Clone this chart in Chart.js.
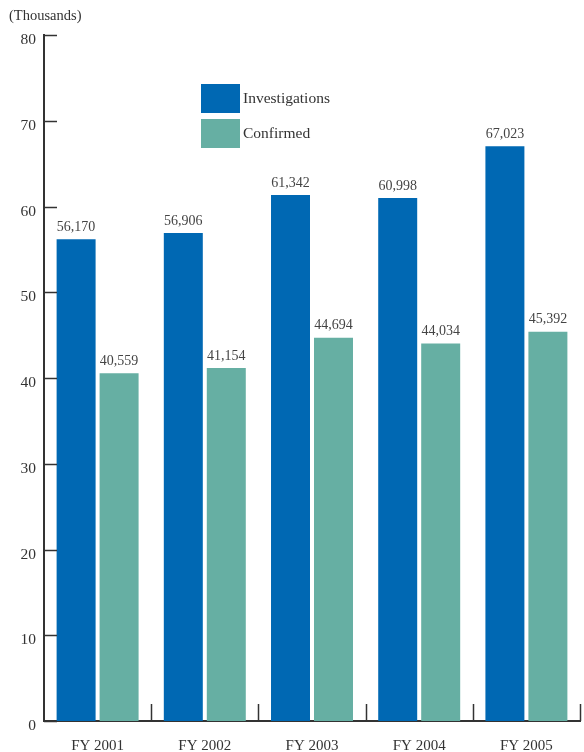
<!DOCTYPE html>
<html>
<head>
<meta charset="utf-8">
<script src="https://cdn.jsdelivr.net/npm/chart.js@4/dist/chart.umd.min.js"></script>
<style>
  html, body { margin: 0; padding: 0; background: #fff; }
  #wrap { width: 584px; height: 752px; position: relative; }
</style>
</head>
<body>
<div id="wrap"><canvas id="chart"></canvas></div>
<script>
// data (thousands)
const years = ['FY 2001', 'FY 2002', 'FY 2003', 'FY 2004', 'FY 2005'];
const investigations = [56170, 56906, 61342, 60998, 67023];
const confirmed = [40559, 41154, 44694, 44034, 45392];
const yTicks = [0, 10, 20, 30, 40, 50, 60, 70, 80];

const FONT = '"Liberation Serif", "DejaVu Serif", serif';
const INK = '#333';

// value labels above bars
const valueLabels = {
  id: 'valueLabels',
  afterDatasetsDraw(chart) {
    const ctx = chart.ctx;
    ctx.save();
    ctx.font = '14px ' + FONT;
    ctx.fillStyle = '#444';
    ctx.textAlign = 'center';
    ctx.textBaseline = 'bottom';
    chart.data.datasets.forEach((ds, i) => {
      chart.getDatasetMeta(i).data.forEach((bar, j) => {
        ctx.fillText(ds.raw[j].toLocaleString('en-US'), bar.x, bar.y - 5);
      });
    });
    ctx.restore();
  }
};

// inward ticks, category separators, unit label and legend
const decor = {
  id: 'decor',
  afterDraw(chart) {
    const ctx = chart.ctx;
    const x = chart.scales.x, y = chart.scales.y;
    const area = chart.chartArea;
    ctx.save();
    ctx.strokeStyle = INK;
    ctx.lineWidth = 1.5;
    // y ticks pointing right
    yTicks.forEach(v => {
      const py = Math.round(y.getPixelForValue(v)) + 0.5;
      ctx.beginPath();
      ctx.moveTo(area.left, py);
      ctx.lineTo(area.left + 13, py);
      ctx.stroke();
    });
    // separators between categories
    const step = x.width / years.length;
    for (let i = 1; i <= years.length; i++) {
      const px = Math.round(x.getPixelForValue(i - 1) + step / 2) + 0.5;
      ctx.beginPath();
      ctx.moveTo(px, area.bottom);
      ctx.lineTo(px, area.bottom - 17);
      ctx.stroke();
    }
    // unit label
    ctx.font = '14.5px ' + FONT;
    ctx.fillStyle = INK;
    ctx.textAlign = 'left';
    ctx.textBaseline = 'middle';
    ctx.fillText('(Thousands)', 9, 16);
    // legend
    ctx.font = '15.5px ' + FONT;
    const lx = 201, ly = 84;
    chart.data.datasets.forEach((ds, i) => {
      const top = ly + i * 35;
      ctx.fillStyle = ds.backgroundColor;
      ctx.fillRect(lx, top, 39, 29);
      ctx.fillStyle = INK;
      ctx.fillText(ds.label, lx + 42, top + 15);
    });
    ctx.restore();
  }
};

new Chart(document.getElementById('chart'), {
  type: 'bar',
  data: {
    labels: years,
    datasets: [
      { label: 'Investigations', raw: investigations, data: investigations.map(v => v / 1000), backgroundColor: '#0068b3' },
      { label: 'Confirmed', raw: confirmed, data: confirmed.map(v => v / 1000), backgroundColor: '#66afa3' }
    ]
  },
  options: {
    responsive: true,
    maintainAspectRatio: false,
    animation: false,
    layout: { padding: { top: 35, right: 4, left: 0, bottom: 0 } },
    categoryPercentage: 0.802,
    barPercentage: 0.907,
    plugins: { legend: { display: false }, tooltip: { enabled: false } },
    scales: {
      x: {
        grid: { display: false },
        border: { display: true, color: INK, width: 2 },
        ticks: { color: INK, font: { family: FONT, size: 15 }, padding: 8 },
        afterFit(s) { s.height = 31; }
      },
      y: {
        min: 0, max: 80,
        afterBuildTicks(s) { s.ticks = yTicks.map(v => ({ value: v })); },
        grid: { display: false },
        border: { display: true, color: INK, width: 2 },
        ticks: { color: INK, font: { family: FONT, size: 15.5 }, padding: 0, labelOffset: 5 },
        afterFit(s) { s.width = 44; }
      }
    }
  },
  plugins: [valueLabels, decor]
});
</script>
</body>
</html>
